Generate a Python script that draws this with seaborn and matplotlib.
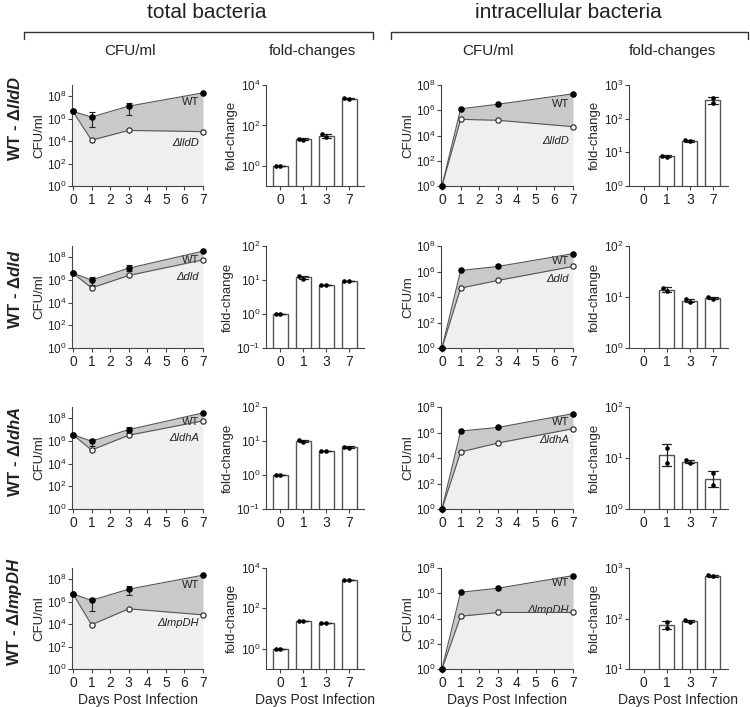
import numpy as np
import pandas as pd
import matplotlib
matplotlib.use('Agg')
import matplotlib.pyplot as plt
import seaborn as sns
from matplotlib.ticker import FixedLocator, FuncFormatter, NullLocator

# ---- data ----
days = [0, 1, 3, 7]
bar_days = ['0', '1', '3', '7']
genes = ['lldD', 'dld', 'ldhA', 'lmpDH']

# total bacteria CFU/ml: WT mean, WT error bar ends, mutant
lldD_total_wt = [4.4e6, 1.4e6, 1.3e7, 2.0e8]
lldD_total_lo = [4.4e6, 1.8e5, 2.3e6, 2.0e8]
lldD_total_hi = [4.4e6, 3.8e6, 2.3e7, 2.0e8]
lldD_total_mut = [4.4e6, 1.2e4, 9.0e4, 7.0e4]

dld_total_wt = [4.0e6, 1.0e6, 1.1e7, 3.5e8]
dld_total_lo = [4.0e6, 3.6e5, 5.9e6, 3.5e8]
dld_total_hi = [4.0e6, 2.0e6, 2.1e7, 3.5e8]
dld_total_mut = [4.0e6, 2.0e5, 2.5e6, 6.0e7]

ldhA_total_wt = [3.6e6, 9.6e5, 1.0e7, 3.0e8]
ldhA_total_lo = [3.6e6, 3.6e5, 5.0e6, 3.0e8]
ldhA_total_hi = [3.6e6, 1.6e6, 1.8e7, 3.0e8]
ldhA_total_mut = [3.6e6, 1.6e5, 3.2e6, 6.0e7]

lmpDH_total_wt = [5.0e6, 1.3e6, 1.3e7, 2.3e8]
lmpDH_total_lo = [5.0e6, 1.5e5, 4.0e6, 2.3e8]
lmpDH_total_hi = [5.0e6, 2.3e6, 2.6e7, 2.3e8]
lmpDH_total_mut = [5.0e6, 8.7e3, 2.3e5, 6.7e4]

# intracellular bacteria CFU/ml
lldD_intra_wt = [1, 1.3e6, 3.0e6, 2.0e7]
lldD_intra_mut = [1, 1.9e5, 1.6e5, 5.0e4]
dld_intra_wt = [1, 1.2e6, 2.5e6, 2.5e7]
dld_intra_mut = [1, 5.0e4, 2.0e5, 2.5e6]
ldhA_intra_wt = [1, 1.3e6, 2.5e6, 3.0e7]
ldhA_intra_mut = [1, 3.0e4, 1.5e5, 2.0e6]
lmpDH_intra_wt = [1, 1.2e6, 2.5e6, 2.5e7]
lmpDH_intra_mut = [1, 1.5e4, 3.0e4, 3.0e4]

# fold-changes, two replicates per day
lldD_total_fold = [[1.0, 1.0], [19, 22], [26, 36], [2000, 2300]]
dld_total_fold = [[1.0, 1.0], [11, 13], [6.9, 6.9], [9.3, 9.3]]
ldhA_total_fold = [[1.0, 1.0], [9.5, 10.5], [5.0, 5.0], [6.3, 6.8]]
lmpDH_total_fold = [[1.0, 1.0], [25, 25], [18, 18], [2500, 2600]]

lldD_intra_fold = [[], [7.2, 8.0], [21, 23], [300, 420]]
dld_intra_fold = [[], [13, 15], [8.0, 9.0], [9.2, 9.8]]
ldhA_intra_fold = [[], [8.0, 16.0], [8.0, 9.0], [3.0, 5.0]]
lmpDH_intra_fold = [[], [65, 85], [85, 92], [680, 720]]

ylabel_intra = ['CFU/ml', 'CFU/m', 'CFU/ml', 'CFU/ml']

rows = [
    (lldD_total_wt, lldD_total_lo, lldD_total_hi, lldD_total_mut, lldD_intra_wt, lldD_intra_mut, lldD_total_fold, lldD_intra_fold),
    (dld_total_wt, dld_total_lo, dld_total_hi, dld_total_mut, dld_intra_wt, dld_intra_mut, dld_total_fold, dld_intra_fold),
    (ldhA_total_wt, ldhA_total_lo, ldhA_total_hi, ldhA_total_mut, ldhA_intra_wt, ldhA_intra_mut, ldhA_total_fold, ldhA_intra_fold),
    (lmpDH_total_wt, lmpDH_total_lo, lmpDH_total_hi, lmpDH_total_mut, lmpDH_intra_wt, lmpDH_intra_mut, lmpDH_total_fold, lmpDH_intra_fold),
]

# ---- layout ----
W, H = 750, 707
row_tops = [85, 246, 407, 568]
row_bots = [186, 348, 509, 669]
fold_total_lim = [(0.1, 1e4), (0.1, 1e2), (0.1, 1e2), (0.1, 1e4)]
fold_total_ticks = [[1, 1e2, 1e4], [0.1, 1, 10, 100], [0.1, 1, 10, 100], [1, 1e2, 1e4]]
fold_intra_lim = [(1, 1e3), (1, 1e2), (1, 1e2), (10, 1e3)]
fold_intra_ticks = [[1, 10, 100, 1000], [1, 10, 100], [1, 10, 100], [10, 100, 1000]]
lab_total = [(0.835, 0.43), (0.86, 0.70), (0.856, 0.70), (0.83, 0.46)]
lab_intra = [(0.81, 0.45), (0.85, 0.68), (0.85, 0.68), (0.85, 0.58)]
row_label_y = [118, 289, 452, 612]

sns.set_theme(style='ticks')
plt.rcParams['font.family'] = ['Liberation Sans', 'DejaVu Sans']
plt.rcParams['mathtext.fontset'] = 'custom'
plt.rcParams['mathtext.rm'] = 'Liberation Sans'
plt.rcParams['mathtext.it'] = 'Liberation Sans:italic'
plt.rcParams['mathtext.bf'] = 'Liberation Sans:bold'
plt.rcParams['mathtext.bfit'] = 'Liberation Sans:italic:bold'
plt.rcParams['text.color'] = '#222222'
plt.rcParams['axes.edgecolor'] = '#444444'
plt.rcParams['axes.linewidth'] = 0.8
plt.rcParams['xtick.color'] = '#444444'
plt.rcParams['ytick.color'] = '#444444'
plt.rcParams['xtick.labelcolor'] = '#222222'
plt.rcParams['ytick.labelcolor'] = '#222222'

light = '#efefef'
dark = '#c9c9c9'

fig = plt.figure(figsize=(W / 100, H / 100), dpi=100)


def rect(l, t, r, b):
    return [l / W, 1 - b / H, (r - l) / W, (b - t) / H]


pow_fmt = FuncFormatter(lambda v, p: r'$\mathdefault{10^{%d}}$' % round(np.log10(v)))


def line_panel(ax, wt, mut, lo, hi, ytop, ylabel, labpos, gene, last):
    ax.set_yscale('log')
    ax.fill_between(days, 1, mut, color=light, lw=0)
    ax.fill_between(days, mut, wt, color=dark, lw=0)
    if lo is not None:
        wt_a = np.array(wt)
        ax.errorbar(days, wt, yerr=[wt_a - np.array(lo), np.array(hi) - wt_a], fmt='none',
                    ecolor='#222222', elinewidth=0.8, capsize=2.2, capthick=0.8, zorder=3)
    sns.lineplot(x=days, y=mut, ax=ax, color='#555555', lw=0.8, marker='o', ms=3.8,
                 markerfacecolor='white', mec='#333333', mew=0.9, clip_on=False, zorder=4)
    sns.lineplot(x=days, y=wt, ax=ax, color='#555555', lw=0.8, marker='o', ms=3.8,
                 markerfacecolor='black', mec='black', mew=0.9, clip_on=False, zorder=5)
    ax.set_xlim(-0.05, 7)
    ax.set_ylim(1, ytop)
    ax.set_xticks(range(8))
    ax.yaxis.set_major_locator(FixedLocator([1, 1e2, 1e4, 1e6, 1e8]))
    ax.yaxis.set_minor_locator(NullLocator())
    ax.yaxis.set_major_formatter(pow_fmt)
    ax.tick_params(axis='y', labelsize=8.5, length=3, width=0.8, pad=1)
    ax.tick_params(axis='x', labelsize=10, length=3, width=0.8, pad=2)
    ax.set_ylabel(ylabel, fontsize=9.5, labelpad=1)
    ax.set_xlabel('Days Post Infection' if last else '', fontsize=10, labelpad=2)
    ax.text(0.97, labpos[0], 'WT', transform=ax.transAxes, ha='right', va='center', fontsize=8)
    ax.text(0.97, labpos[1], 'Δ' + gene, transform=ax.transAxes, ha='right', va='center',
            fontsize=8, fontstyle='italic')
    sns.despine(ax=ax)


def bar_panel(ax, fold, ylim, ticks, last):
    df = pd.DataFrame([(d, v) for d, vals in zip(bar_days, fold) for v in vals],
                      columns=['day', 'fold'])
    ax.set_yscale('log')
    sns.barplot(data=df, x='day', y='fold', order=bar_days, errorbar='sd',
                capsize=0.4, width=0.65, color='white', saturation=1,
                err_kws={'color': '#222222', 'linewidth': 0.9}, ax=ax)
    for p in ax.patches:
        p.set_facecolor('white')
        p.set_edgecolor('#555555')
        p.set_linewidth(1.0)
        p.set_zorder(1)
    sns.swarmplot(data=df, x='day', y='fold', order=bar_days, color='black', size=3.3,
                  ax=ax, zorder=4)
    ax.set_ylim(*ylim)
    ax.set_xlim(-0.63, 3.65)
    ax.yaxis.set_major_locator(FixedLocator(ticks))
    ax.yaxis.set_minor_locator(NullLocator())
    ax.yaxis.set_major_formatter(pow_fmt)
    ax.tick_params(axis='y', labelsize=8.5, length=3, width=0.8, pad=1)
    ax.tick_params(axis='x', labelsize=10, length=3, width=0.8, pad=2)
    ax.set_ylabel('fold-change', fontsize=9.5, labelpad=2)
    ax.set_xlabel('Days Post Infection' if last else '', fontsize=10, labelpad=2)
    sns.despine(ax=ax)


# headers and brackets, in pixel coordinates
top = fig.add_axes([0, 0, 1, 1])
top.set_xlim(0, W)
top.set_ylim(H, 0)
top.axis('off')
top.text(207, 12, 'total bacteria', ha='center', va='center', fontsize=15)
top.text(568, 12, 'intracellular bacteria', ha='center', va='center', fontsize=15)
for x0, x1 in [(24, 373), (391, 748)]:
    top.plot([x0, x0, x1, x1], [39, 32, 32, 39], color='#333333', lw=1)
top.text(130, 51, 'CFU/ml', ha='center', va='center', fontsize=11)
top.text(312, 51, 'fold-changes', ha='center', va='center', fontsize=11)
top.text(488, 51, 'CFU/ml', ha='center', va='center', fontsize=11)
top.text(672, 51, 'fold-changes', ha='center', va='center', fontsize=11)
for i, gene in enumerate(genes):
    top.text(15, row_label_y[i], 'WT - Δ$\\mathbfit{%s}$' % gene, rotation=90, ha='center',
             va='center', fontsize=12, fontweight='bold')

for i, (twt, tlo, thi, tmut, iwt, imut, tfold, ifold) in enumerate(rows):
    t, b = row_tops[i], row_bots[i]
    last = i == 3
    ax1 = fig.add_axes(rect(72, t, 203, b))
    line_panel(ax1, twt, tmut, tlo, thi, 1e9, 'CFU/ml', lab_total[i], genes[i], last)
    ax2 = fig.add_axes(rect(266, t, 364, b))
    bar_panel(ax2, tfold, fold_total_lim[i], fold_total_ticks[i], last)
    ax3 = fig.add_axes(rect(441, t, 573, b))
    line_panel(ax3, iwt, imut, None, None, 1e8, ylabel_intra[i], lab_intra[i], genes[i], last)
    ax4 = fig.add_axes(rect(629, t, 728, b))
    bar_panel(ax4, ifold, fold_intra_lim[i], fold_intra_ticks[i], last)

fig.savefig('out.png', dpi=100)
